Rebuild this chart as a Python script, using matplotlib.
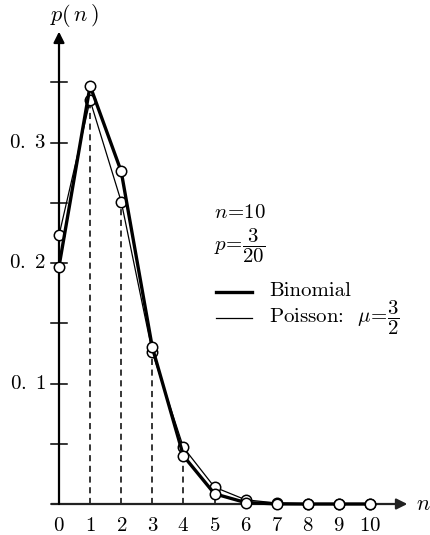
import matplotlib
matplotlib.use('Agg')
import matplotlib.pyplot as plt
import numpy as np

plt.rcParams['mathtext.fontset'] = 'cm'
plt.rcParams['font.family'] = 'DejaVu Serif'

# Werte
n_vals = [0, 1, 2, 3, 4, 5, 6, 7, 8, 9, 10]
binomial = [0.197, 0.347, 0.276, 0.130, 0.040, 0.0085, 0.0012, 0.0001, 0.0, 0.0, 0.0]
poisson = [0.223, 0.335, 0.251, 0.126, 0.047, 0.014, 0.0035, 0.0008, 0.0001, 0.0, 0.0]
y_ticks = [0.05, 0.10, 0.15, 0.20, 0.25, 0.30, 0.35]
y_labels = {0.10: r'$0.\ 1$', 0.20: r'$0.\ 2$', 0.30: r'$0.\ 3$'}

fig = plt.figure(figsize=(4.31, 5.35), dpi=100)
ax = fig.add_axes([0, 0, 1, 1])
# Pixel -> Daten: x = (px - 59) / 31.1, y = (504 - py) / 1205
ax.set_xlim(-59 / 31.1, (431 - 59) / 31.1)
ax.set_ylim((504 - 535) / 1205, 504 / 1205)
ax.axis('off')


def ypx(py):
    return (504 - py) / 1205


# Achsen mit Pfeilen
ax.annotate('', xy=(11.2, 0), xytext=(-0.25, 0),
            arrowprops=dict(arrowstyle='-|>', lw=1.6, color='#222222',
                            mutation_scale=16, shrinkA=0, shrinkB=0))
ax.annotate('', xy=(0, 0.392), xytext=(0, 0),
            arrowprops=dict(arrowstyle='-|>', lw=1.6, color='black',
                            mutation_scale=16, shrinkA=0, shrinkB=0))

# y-Ticks
for t in y_ticks:
    ax.plot([-0.26, 0.26], [t, t], color='black', lw=1.1)
    if t in y_labels:
        ax.text(-0.4, t, y_labels[t], ha='right', va='center', fontsize=15)

# x-Beschriftung
for n in n_vals:
    ax.text(n, -0.010, '$%d$' % n, ha='center', va='top', fontsize=15)

ax.text(11.7, 0.0, '$n$', ha='center', va='center', fontsize=16)
ax.text(0.5, 0.405, r'$p(\,n\,)$', ha='center', va='center', fontsize=16)

# gestrichelte Linien
low = np.minimum(binomial, poisson)
for n in n_vals[1:6]:
    ax.plot([n, n], [0, low[n]], color='black', lw=1.1, ls=(0, (4, 3)))

# Kurven
ax.plot(n_vals, poisson, color='black', lw=0.9, marker='o', ms=7.5,
        mfc='white', mec='black', mew=1.1, zorder=3)
ax.plot(n_vals, binomial, color='black', lw=2.4, marker='o', ms=7.5,
        mfc='white', mec='black', mew=1.1, zorder=4)

# Beschriftung / Legende
ax.text(5.0, ypx(213), r'$n\!=\!10$', ha='left', va='center', fontsize=15)
ax.text(5.0, ypx(246), r'$p\!=\!\dfrac{3}{20}$', ha='left', va='center', fontsize=15)
ax.plot([5.05, 6.2], [ypx(292)] * 2, color='black', lw=2.4)
ax.text(6.75, ypx(291), 'Binomial', ha='left', va='center', fontsize=15,
        family='cmr10')
ax.plot([5.05, 6.2], [ypx(318)] * 2, color='black', lw=0.9)
ax.text(6.75, ypx(318), r'Poisson:  $\mu\!=\!\dfrac{3}{2}$', ha='left', va='center',
        fontsize=15, family='cmr10')

fig.savefig('out.png', dpi=100)
